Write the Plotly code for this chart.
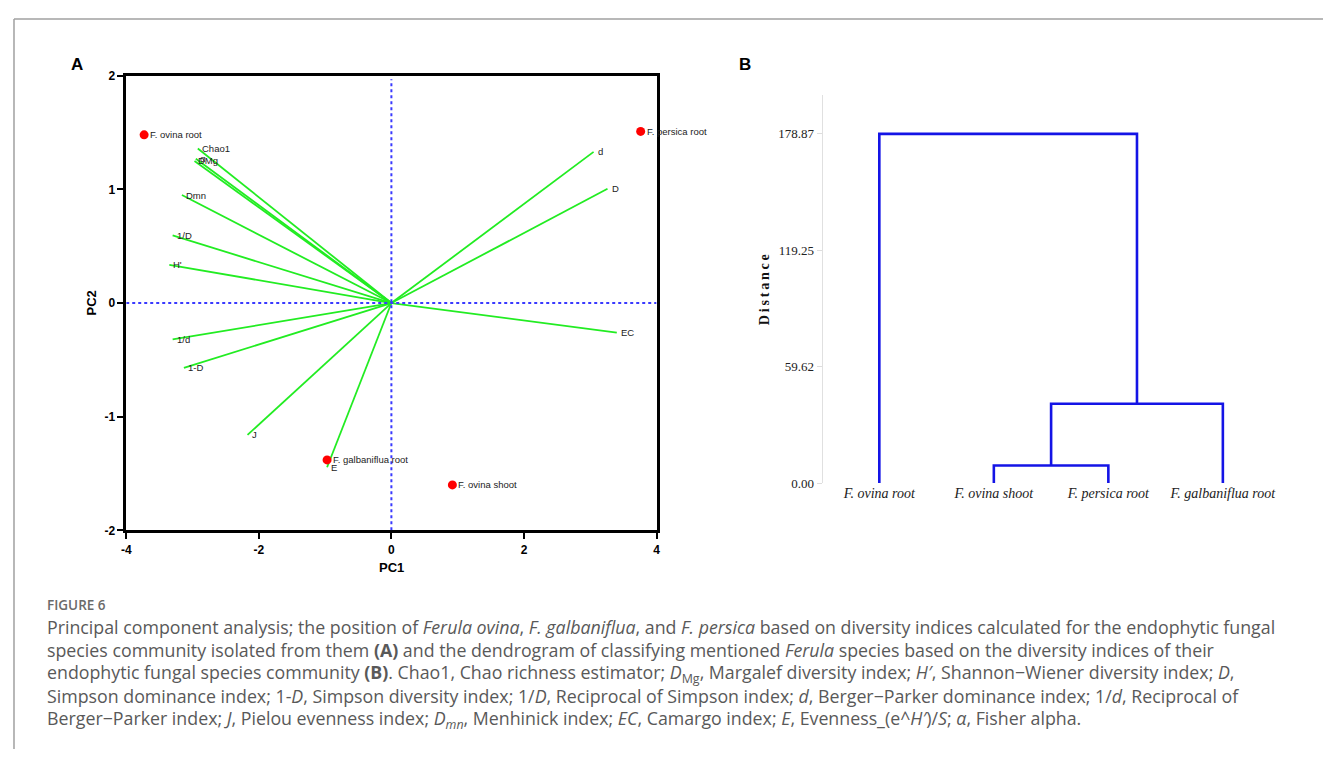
import plotly.graph_objects as go

# page is 1331x757; browser body margin is 8px, so the figure is 1315x741 drawn at offset 8
PAGE_OFF = 8
W, H = 1331 - 2 * PAGE_OFF, 757 - 2 * PAGE_OFF

# ---------------- Panel A data (PCA biplot) ----------------
sample_names = ["F. ovina root", "F. persica root", "F. galbaniflua root", "F. ovina shoot"]
sample_pc1 = [-3.73, 3.76, -0.97, 0.92]
sample_pc2 = [1.48, 1.51, -1.38, -1.60]

vector_names = ["Chao1", "α", "DMg", "Dmn", "1/D", "H'", "1/d", "1-D", "J", "E", "d", "D", "EC"]
vector_pc1 = [-2.92, -2.95, -2.97, -3.16, -3.30, -3.35, -3.30, -3.13, -2.17, -0.97, 3.05, 3.26, 3.40]
vector_pc2 = [1.36, 1.27, 1.25, 0.95, 0.595, 0.336, -0.32, -0.57, -1.16, -1.445, 1.33, 1.005, -0.26]

pc_ticks_x = [-4, -2, 0, 2, 4]
pc_ticks_y = [-2, -1, 0, 1, 2]

# ---------------- Panel B data (dendrogram) ----------------
leaf_labels = ["F. ovina root", "F. ovina shoot", "F. persica root", "F. galbaniflua root"]
# merges: (left member, right member, height); members: leaf index or "c<k>" for k-th merge
merges = [(1, 2, 9.0), (3, "c0", 40.6), (0, "c1", 178.87)]
dist_ticks = [0.0, 59.62, 119.25, 178.87]
dist_ticktext = ["0.00", "59.62", "119.25", "178.87"]


def px_x(p):
    return (p - PAGE_OFF) / W


def px_y(p):
    return 1 - (p - PAGE_OFF) / H


fig = go.Figure()

# biplot vectors
lx, ly = [], []
for vx, vy in zip(vector_pc1, vector_pc2):
    lx += [0, vx, None]
    ly += [0, vy, None]
fig.add_trace(go.Scatter(x=lx, y=ly, mode="lines", line=dict(color="#22ec22", width=1.8),
                         hoverinfo="skip", showlegend=False, xaxis="x", yaxis="y"))

# samples
fig.add_trace(go.Scatter(x=sample_pc1, y=sample_pc2, mode="markers",
                         marker=dict(color="#ff0000", size=9), showlegend=False,
                         xaxis="x", yaxis="y"))

annotations = []
small = dict(family="Arial", size=9.5, color="#222222")
for n, vx, vy in zip(vector_names, vector_pc1, vector_pc2):
    annotations.append(dict(x=vx, y=vy, xref="x", yref="y", text=n, showarrow=False,
                            xanchor="left", yanchor="middle", xshift=2, font=small))
for n, sx, sy in zip(sample_names, sample_pc1, sample_pc2):
    annotations.append(dict(x=sx, y=sy, xref="x", yref="y", text=n, showarrow=False,
                            xanchor="left", yanchor="middle", xshift=4, font=small))

# ---------------- dendrogram geometry from merges ----------------
pos = {i: (i + 1, 0.0) for i in range(len(leaf_labels))}
dx, dy = [], []
for k, (a, b, h) in enumerate(merges):
    xa, ya = pos[a]
    xb, yb = pos[b]
    dx += [xa, xa, xb, xb, None]
    dy += [ya, h, h, yb, None]
    pos["c%d" % k] = ((xa + xb) / 2, h)
fig.add_trace(go.Scatter(x=dx, y=dy, mode="lines", line=dict(color="#1414e6", width=2.6),
                         hoverinfo="skip", showlegend=False, xaxis="x2", yaxis="y2"))


def page_text(x, y, text, font, angle=0, xanchor="center"):
    annotations.append(dict(x=px_x(x), y=px_y(y), xref="paper", yref="paper", text=text,
                            showarrow=False, xanchor=xanchor, yanchor="middle",
                            textangle=angle, font=font))


# panel letters
page_text(72, 59, "<b>A</b>", dict(family="Arial", size=17, color="black"))
page_text(745, 59, "<b>B</b>", dict(family="Arial", size=17, color="black"))
# axis titles A
page_text(389, 572, "<b>PC1</b>", dict(family="Arial", size=13, color="black"))
page_text(87, 302, "<b>PC2</b>", dict(family="Arial", size=13, color="black"), angle=-90)
# axis title B
page_text(765, 288, "<b>" + "\u2009".join("Distance") + "</b>",
          dict(family="Liberation Serif", size=14, color="#111111"), angle=-90)

# caption
page_text(40, 610, "FIGURE 6", dict(family="Open Sans", size=13.5, color="#6a6a6a", weight=600),
          xanchor="left")
cap_font = dict(family="Open Sans", size=17.8, color="#595959")
caption_lines = [
    "Principal component analysis; the position of <i>Ferula ovina</i>, <i>F. galbaniflua</i>, and <i>F. persica</i> based on diversity indices calculated for the endophytic fungal",
    "species community isolated from them <b>(A)</b> and the dendrogram of classifying mentioned <i>Ferula</i> species based on the diversity indices of their",
    "endophytic fungal species community <b>(B)</b>. Chao1, Chao richness estimator; <i>D</i><sub>Mg</sub>, Margalef diversity index; <i>H′</i>, Shannon−Wiener diversity index; <i>D</i>,",
    "Simpson dominance index; 1-<i>D</i>, Simpson diversity index; 1/<i>D</i>, Reciprocal of Simpson index; <i>d</i>, Berger−Parker dominance index; 1/<i>d</i>, Reciprocal of",
    "Berger−Parker index; <i>J</i>, Pielou evenness index; <i>D</i><sub><i>mn</i></sub>, Menhinick index; <i>EC</i>, Camargo index; <i>E</i>, Evenness_(e^<i>H′</i>)/<i>S</i>; <i>α</i>, Fisher alpha.",
]
for i, t in enumerate(caption_lines):
    page_text(40, 633 + 23.4 * i, t, cap_font, xanchor="left")

shapes = [
    dict(type="line", xref="x", yref="y", x0=-4, x1=4, y0=0, y1=0,
         line=dict(color="#3a3aff", width=2, dash="dot")),
    dict(type="line", xref="x", yref="y", x0=0, x1=0, y0=-2, y1=1.97,
         line=dict(color="#3a3aff", width=2, dash="dot")),
    # page frame
    dict(type="line", xref="paper", yref="paper", x0=px_x(9), x1=1.01, y0=px_y(12), y1=px_y(12),
         line=dict(color="#a0a0a0", width=1.5)),
    dict(type="line", xref="paper", yref="paper", x0=px_x(9), x1=px_x(9), y0=-0.02, y1=px_y(12),
         line=dict(color="#a0a0a0", width=1.5)),
]

# dendrogram axis geometry (pixels measured on the page)
x2_left, x2_right = 823.3, 1300.0
leaf_px0, leaf_step = 880.3, 115.3
x2_range = [1 - (leaf_px0 - x2_left) / leaf_step, 1 + (x2_right - leaf_px0) / leaf_step]
y2_top_px, y2_bot_px = 90.0, 485.7
y2_range = [0, 178.87 * (y2_bot_px - y2_top_px) / (485.7 - 129.3)]

tickfontA = dict(family="Arial", size=12, color="black", weight="bold")

fig.update_layout(
    width=W, height=H, margin=dict(l=0, r=0, t=0, b=0),
    paper_bgcolor="white", plot_bgcolor="white",
    xaxis=dict(domain=[px_x(122), px_x(656)], range=[-4, 4], tickvals=pc_ticks_x,
               ticktext=[str(v) for v in pc_ticks_x],
               ticks="outside", ticklen=6, tickwidth=2, tickcolor="black",
               showline=True, linewidth=2.5, linecolor="black", mirror=True,
               showgrid=False, zeroline=False, tickfont=tickfontA, anchor="y"),
    yaxis=dict(domain=[px_y(534), px_y(70)], range=[-2, 2], tickvals=pc_ticks_y,
               ticktext=[str(v) for v in pc_ticks_y],
               ticks="outside", ticklen=6, tickwidth=2, tickcolor="black",
               showline=True, linewidth=2.5, linecolor="black", mirror=True,
               showgrid=False, zeroline=False, tickfont=tickfontA, anchor="x"),
    xaxis2=dict(domain=[px_x(x2_left), px_x(x2_right)], range=x2_range,
                tickvals=list(range(1, len(leaf_labels) + 1)),
                ticktext=["<i>%s</i>" % s for s in leaf_labels],
                ticks="", showline=False, showgrid=False, zeroline=False,
                tickfont=dict(family="Liberation Serif", size=14, color="#222222"),
                anchor="y2"),
    yaxis2=dict(domain=[px_y(y2_bot_px), px_y(y2_top_px)], range=y2_range,
                tickvals=dist_ticks, ticktext=dist_ticktext,
                ticks="outside", ticklen=5, tickwidth=1, tickcolor="#dddddd",
                showline=True, linewidth=1, linecolor="#e0e0e0",
                showgrid=False, zeroline=False,
                tickfont=dict(family="Liberation Serif", size=13, color="#222222"),
                anchor="x2"),
    annotations=annotations, shapes=shapes,
)

fig.write_html("out.html")
